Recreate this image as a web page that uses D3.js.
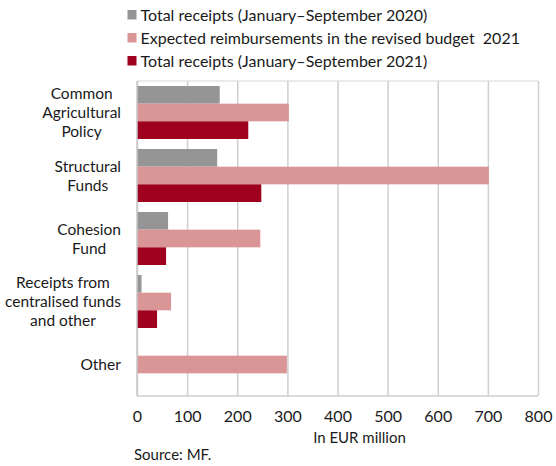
<!DOCTYPE html>
<html><head><meta charset="utf-8">
<script src="https://cdn.jsdelivr.net/npm/d3@7"></script>
<style>
body{margin:0;background:#fff;}
text{font-family:Lato,sans-serif;fill:#1a1a1a;white-space:pre;}
</style></head>
<body><svg id="c" width="556" height="466"></svg>
<script>
const categories = ["Common Agricultural Policy","Structural Funds","Cohesion Fund","Receipts from centralised funds and other","Other"];
const categoryLines = [["Common","Agricultural","Policy"],["Structural","Funds"],["Cohesion","Fund"],["Receipts from","centralised funds","and other"],["Other"]];
const seriesNames = ["Total receipts (January\u2013September 2020)","Expected reimbursements in the revised budget  2021","Total receipts (January\u2013September 2021)"];
const receipts2020 = [165, 160, 62, 9, null];
const expected2021 = [303, 702, 246, 68, 299];
const receipts2021 = [222, 248, 58, 40, null];
const seriesColors = ["#959595","#da9696","#9e001e"];
const xTicks = [0,100,200,300,400,500,600,700,800];
const xTitle = "In EUR million";
const source = "Source: MF.";

const series = [receipts2020, expected2021, receipts2021];
const svg = d3.select("#c");
const m = {l:137, r:538, t:81, b:396};
const x = d3.scaleLinear().domain([0,800]).range([m.l, m.r]);
const y0 = d3.scaleBand().domain(categories).range([m.t, m.b]).padding(0);
const y1 = d3.scaleBand().domain([0,1,2]).range([5, y0.bandwidth()-5]).padding(0);

// grid
const grid = svg.append("g").attr("transform",`translate(0,${m.b})`)
  .call(d3.axisBottom(x).tickValues(xTicks).tickSize(-(m.b-m.t)).tickFormat(""));
grid.select(".domain").remove();
grid.selectAll("line").attr("stroke","#cfcfcf").attr("stroke-width",1.5);
svg.append("line").attr("x1",m.l).attr("x2",m.r).attr("y1",m.t).attr("y2",m.t).attr("stroke","#d6d6d6").attr("stroke-width",1);
svg.append("line").attr("x1",m.l).attr("x2",m.r).attr("y1",m.b).attr("y2",m.b).attr("stroke","#cfcfcf").attr("stroke-width",1.5);

// bars
series.forEach((vals,si)=>{
  svg.append("g").selectAll("rect").data(categories.map((c,i)=>({c,v:vals[i]})).filter(d=>d.v!=null))
    .join("rect")
    .attr("x",x(0)).attr("y",d=>y0(d.c)+y1(si))
    .attr("width",d=>x(d.v)-x(0)).attr("height",y1.bandwidth())
    .attr("fill",seriesColors[si]);
});
// left axis line
svg.append("line").attr("x1",m.l).attr("x2",m.l).attr("y1",m.t).attr("y2",m.b).attr("stroke","#c8c8c8").attr("stroke-width",1.5);

// x tick labels
const ax = svg.append("g").attr("transform",`translate(0,${m.b})`)
  .call(d3.axisBottom(x).tickValues(xTicks).tickSize(0).tickPadding(15));
ax.select(".domain").remove();
ax.selectAll("text").attr("font-size",16).attr("font-family","Lato,sans-serif").attr("fill","#1a1a1a");

svg.append("text").attr("x",359.5).attr("y",443).attr("text-anchor","middle").attr("font-size",15).text(xTitle);
svg.append("text").attr("x",134).attr("y",460).attr("font-size",15).text(source);

// category labels
const lh = 19;
categories.forEach((c,i)=>{
  const lines = categoryLines[i];
  const cy = y0(c)+y0.bandwidth()/2;
  const t = svg.append("text").attr("font-size",15.5).attr("text-anchor","middle");
  lines.forEach((l,j)=>{
    t.append("tspan").attr("x",0).attr("y",cy + (j-(lines.length-1)/2)*lh + 5.5).text(l);
  });
  const w = t.node().getBBox().width;
  t.selectAll("tspan").attr("x",121 - w/2);
});

// legend
const lg = svg.append("g");
seriesNames.forEach((s,i)=>{
  const yy = 10 + i*23;
  lg.append("rect").attr("x",127.5).attr("y",yy).attr("width",9).attr("height",9.5).attr("fill",seriesColors[i]);
  lg.append("text").attr("x",140.5).attr("y",yy+11).attr("font-size",16).text(s);
});
</script></body></html>
